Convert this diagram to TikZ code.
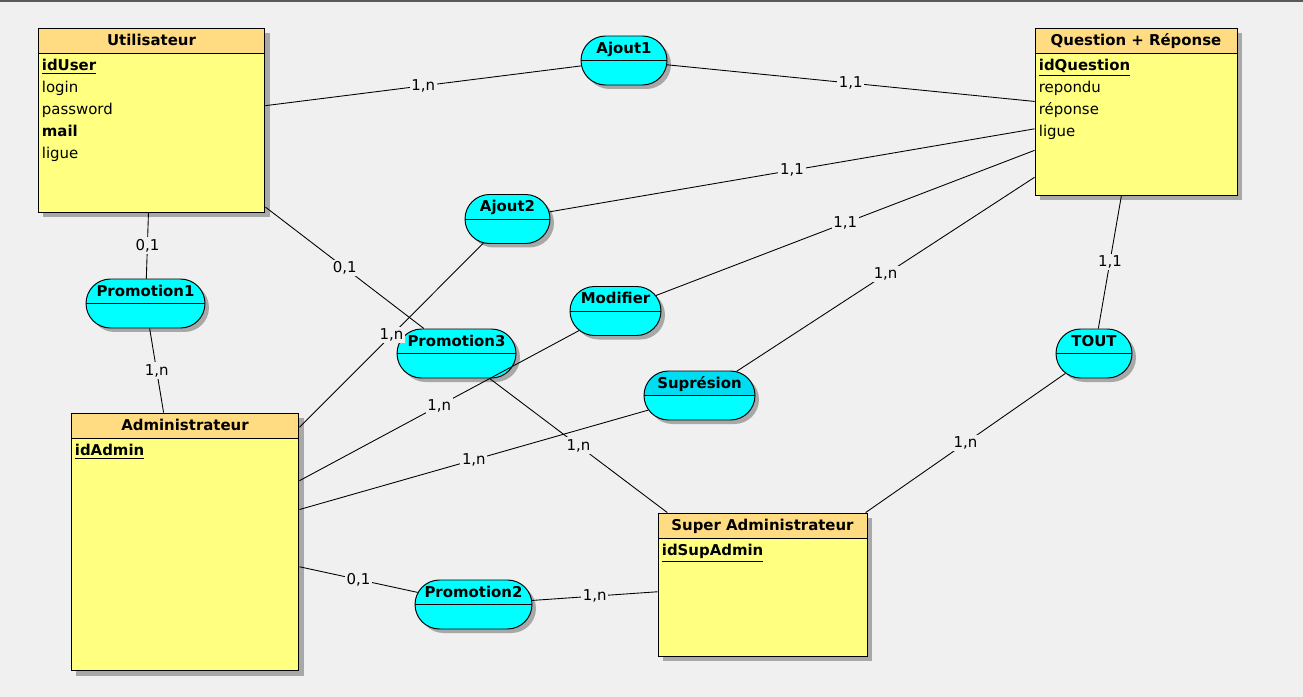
\documentclass[tikz,border=0pt]{standalone}
\usepackage{fontspec}
\setmainfont{DejaVu Sans}
\usetikzlibrary{positioning, shapes.misc, shadows}
\definecolor{merBg}{HTML}{F0F0F0}
\definecolor{merTop}{HTML}{5A5A5A}
\definecolor{merHead}{HTML}{FFDC82}
\definecolor{merBody}{HTML}{FFFF80}
\definecolor{merCyan}{HTML}{00FFFF}
\definecolor{merCyanSel}{HTML}{00DCF2}
\definecolor{merShadow}{HTML}{A8A8A8}

\begin{document}
\begin{tikzpicture}[x=0.02cm, y=-0.02cm,
    every node/.style={font=\fontsize{8.5}{12.5}\selectfont},
    entity/.style={draw, line width=0.55pt, fill=merBody, inner sep=0pt, drop shadow={shadow xshift=0.1cm, shadow yshift=-0.1cm, fill=merShadow, opacity=1}},
    enthead/.style={draw, line width=0.55pt, fill=merHead, inner sep=0pt, minimum height=0.5cm, text height=7.6pt, text depth=1.9pt, font=\fontsize{8.5}{12.5}\selectfont\bfseries},
    attrs/.style={align=left, inner sep=0pt},
    assoc/.style={rounded rectangle, draw, line width=0.55pt, fill=merCyan, inner sep=0pt, minimum height=0.98cm, drop shadow={shadow xshift=0.08cm, shadow yshift=-0.08cm, fill=merShadow, opacity=1}},
    asstitle/.style={inner sep=0pt, text height=6.2pt, text depth=1.9pt, font=\fontsize{8.5}{12.5}\selectfont\bfseries},
    card/.style={fill=merBg, inner sep=1pt},
    link/.style={line width=0.5pt}]
    \useasboundingbox (0,0) rectangle (1303,697);
    \fill[merBg] (0,0) rectangle (1303,697);
    \fill[merTop] (0,0) rectangle (1303,1.5);

    % entites
    \node[entity, minimum width=4.54cm, minimum height=3.68cm] (user) at (151.5,120) {};
    \node[enthead, minimum width=4.54cm, anchor=north] (userT) at (user.north) {Utilisateur};
    \node[attrs, below right=0.11cm and 0.08cm of userT.south west] (userA) {\underline{\textbf{idUser}}\\login\\password\\\textbf{mail}\\ligue};

    \node[entity, minimum width=4.04cm, minimum height=3.34cm] (quest) at (1136,111.5) {};
    \node[enthead, minimum width=4.04cm, anchor=north] (questT) at (quest.north) {Question + Réponse};
    \node[attrs, below right=0.11cm and 0.08cm of questT.south west] (questA) {\underline{\textbf{idQuestion}}\\repondu\\réponse\\ligue};

    \node[entity, minimum width=4.56cm, minimum height=5.16cm] (admin) at (185,542) {};
    \node[enthead, minimum width=4.56cm, anchor=north] (adminT) at (admin.north) {Administrateur};
    \node[attrs, below right=0.11cm and 0.08cm of adminT.south west] (adminA) {\underline{\textbf{idAdmin}}};

    \node[entity, minimum width=4.18cm, minimum height=2.86cm] (sadmin) at (762.5,584.5) {};
    \node[enthead, minimum width=4.18cm, anchor=north] (sadminT) at (sadmin.north) {Super Administrateur};
    \node[attrs, below right=0.11cm and 0.08cm of sadminT.south west] (sadminA) {\underline{\textbf{idSupAdmin}}};

    % associations
    \node[assoc, minimum width=1.72cm] (aj1) at (624,60.5) {};
    \node[assoc, minimum width=1.70cm] (aj2) at (507.5,219) {};
    \node[assoc, minimum width=2.38cm] (promo1) at (145.5,303.5) {};
    \node[assoc, minimum width=1.82cm] (modif) at (615.5,311) {};
    \node[assoc, minimum width=2.38cm] (promo3) at (456.5,353.5) {};
    \node[assoc, minimum width=2.22cm, path picture={\fill[merCyanSel] (path picture bounding box.north west) rectangle (path picture bounding box.east);}] (supr) at (699.5,395.5) {};
    \node[assoc, minimum width=1.52cm] (tout) at (1094,353.5) {};
    \node[assoc, minimum width=2.34cm] (promo2) at (473.5,604.5) {};
    \foreach \a in {aj1, aj2, promo1, modif, promo3, supr, tout, promo2}
        \draw[line width=0.55pt] (\a.west) -- (\a.east);

    \node[asstitle, above=2pt of aj1.center] (aj1T) {Ajout1};
    \node[asstitle, above=2pt of aj2.center] (aj2T) {Ajout2};
    \node[asstitle, above=2pt of promo1.center] (promo1T) {Promotion1};
    \node[asstitle, above=2pt of modif.center] (modifT) {Modifier};
    \node[asstitle, above=2pt of promo3.center] (promo3T) {Promotion3};
    \node[asstitle, above=2pt of supr.center] (suprT) {Suprésion};
    \node[asstitle, above=2pt of tout.center] (toutT) {TOUT};
    \node[asstitle, above=2pt of promo2.center] (promo2T) {Promotion2};

    % liens
    \draw[link] (user) -- node[card]{1,n} (aj1);
    \draw[link] (aj1) -- node[card]{1,1} (quest);
    \draw[link] (aj2) -- node[card]{1,1} (quest);
    \draw[link] (modif) -- node[card]{1,1} (quest);
    \draw[link] (supr) -- node[card]{1,n} (quest);
    \draw[link] (quest) -- node[card]{1,1} (tout);
    \draw[link] (tout) -- node[card]{1,n} (sadmin);
    \draw[link] (user) -- node[card]{0,1} (promo1);
    \draw[link] (promo1) -- node[card]{1,n} (admin);
    \draw[link] (user) -- node[card]{0,1} (promo3);
    \draw[link] (promo3) -- node[card]{1,n} (sadmin);
    \draw[link] (aj2) -- node[card]{1,n} (admin);
    \draw[link] (modif) -- node[card]{1,n} (admin);
    \draw[link] (supr) -- node[card]{1,n} (admin);
    \draw[link] (admin) -- node[card]{0,1} (promo2);
    \draw[link] (promo2) -- node[card]{1,n} (sadmin);
\end{tikzpicture}
\end{document}
